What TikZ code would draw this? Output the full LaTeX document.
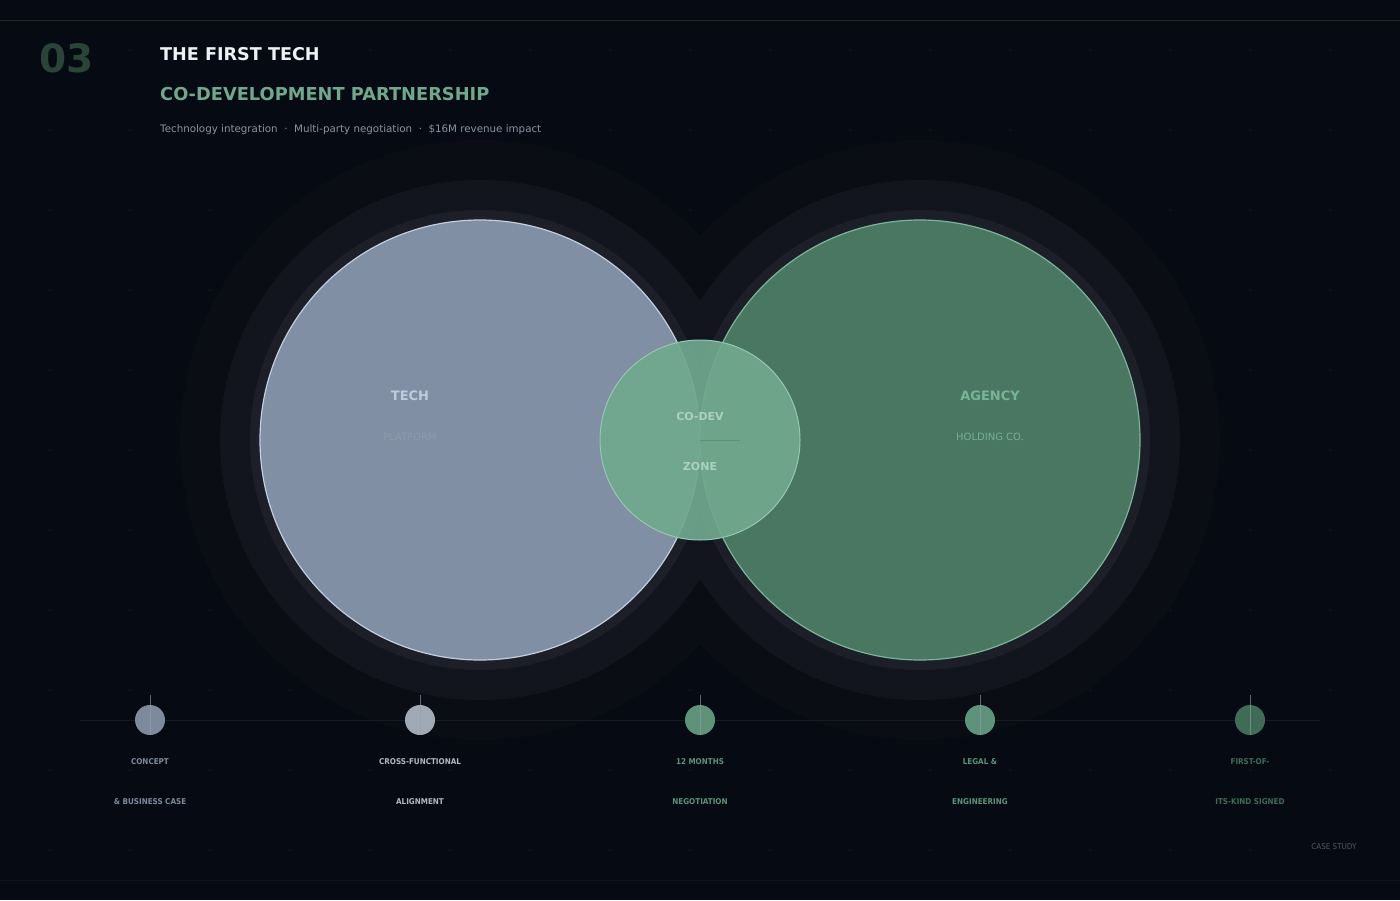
\documentclass[tikz,border=0pt]{standalone}
\usepackage{fontspec}
\setmainfont{DejaVu Sans}
\newfontfamily\cond{DejaVu Sans Condensed}
\definecolor{bg}{HTML}{060A12}
\definecolor{haloA}{HTML}{0A0D14}
\definecolor{haloB}{HTML}{12151D}
\definecolor{haloC}{HTML}{1C1F28}
\definecolor{techF}{HTML}{808FA3}
\definecolor{techS}{HTML}{C3CEDF}
\definecolor{agF}{HTML}{4A7762}
\definecolor{agS}{HTML}{7AB59A}
\definecolor{zoneF}{HTML}{70A88E}
\definecolor{gridc}{HTML}{141922}
\definecolor{topline}{HTML}{1A2A24}
\tikzset{x=1pt,y=-1pt,
 fs/.style={font=\fontsize{#1}{#1}\selectfont},
 lab/.style={font=\cond\bfseries\fontsize{8}{8}\selectfont},
 dotn/.style={circle,minimum size=30pt,inner sep=0pt}}
\begin{document}
\begin{tikzpicture}
\fill[bg] (0,0) rectangle (1400,900);
\useasboundingbox (0,0) rectangle (1400,900);
\foreach \i in {0,...,16}{\foreach \j in {0,...,10}{\fill[gridc] (50+80*\i,50+80*\j) circle (1);}}
\draw[topline] (0,20) -- (1400,20);
\draw[color={rgb,255:red,16;green,20;blue,26}] (0,880) -- (1400,880);
\node[anchor=west,font=\bfseries\fontsize{39}{39}\selectfont,text={rgb,255:red,42;green,68;blue,56}] (num) at (36,58) {03};
\node[anchor=west,font=\bfseries\fontsize{17.6}{18}\selectfont,text={rgb,255:red,238;green,240;blue,244},inner sep=0] (t1) at (160,54) {THE FIRST TECH};
\node[anchor=west,font=\bfseries\fontsize{17.8}{18}\selectfont,text={rgb,255:red,111;green,168;blue,140},inner sep=0] (t2) at (160,94) {CO-DEVELOPMENT PARTNERSHIP};
\node[anchor=west,fs=10.3,text={rgb,255:red,138;green,148;blue,163},inner sep=0] (t3) at (160,130) {Technology integration~~·~~Multi-party negotiation~~·~~\$16M revenue impact};
% halos
\foreach \cx in {480,920}{\fill[haloA] (\cx,440) circle (300);}
\foreach \cx in {480,920}{\fill[haloB] (\cx,440) circle (260);}
\foreach \cx in {480,920}{\fill[haloC] (\cx,440) circle (230);}
\node[circle,minimum size=440pt,inner sep=0,fill=techF,draw=techS,line width=1.2pt] (tech) at (480,440) {};
\node[circle,minimum size=440pt,inner sep=0,fill=agF,draw=agS,line width=1.2pt] (ag) at (920,440) {};
\node[circle,minimum size=200pt,inner sep=0,fill=zoneF,fill opacity=0.92,draw={rgb,255:red,150;green,200;blue,175},line width=1pt] (zone) at (700,440) {};
\draw[color={rgb,255:red,90;green,145;blue,120}] (700,440) -- (740,440);
\node[font=\bfseries\fontsize{13}{13}\selectfont,text={rgb,255:red,190;green,205;blue,220}] (tt) at (410,396) {TECH};
\node[fs=10,text={rgb,255:red,140;green,155;blue,172}] (tp) at (410,437) {PLATFORM};
\node[font=\bfseries\fontsize{13}{13}\selectfont,text={rgb,255:red,120;green,180;blue,150}] (at) at (990,396) {AGENCY};
\node[fs=10,text={rgb,255:red,120;green,175;blue,148}] (ah) at (990,437) {HOLDING CO.};
\node[font=\bfseries\fontsize{11}{11}\selectfont,text={rgb,255:red,170;green,210;blue,190}] (z1) at (700,416) {CO-DEV};
\node[font=\bfseries\fontsize{11}{11}\selectfont,text={rgb,255:red,170;green,210;blue,190}] (z2) at (700,466) {ZONE};
% timeline
\draw[color={rgb,255:red,22;green,27;blue,35}] (80,720) coordinate (ls) -- (1320,720) coordinate (le);
\foreach \x/\c/\a/\b/\tc in {150/{rgb,255:red,125;green,138;blue,156}/CONCEPT/{\& BUSINESS CASE}/{rgb,255:red,125;green,138;blue,156},
 420/{rgb,255:red,160;green,170;blue,182}/CROSS-FUNCTIONAL/ALIGNMENT/{rgb,255:red,176;green,184;blue,196},
 700/{rgb,255:red,94;green,146;blue,122}/12 MONTHS/NEGOTIATION/{rgb,255:red,94;green,146;blue,122},
 980/{rgb,255:red,94;green,146;blue,122}/LEGAL \&/ENGINEERING/{rgb,255:red,94;green,146;blue,122},
 1250/{rgb,255:red,63;green,108;blue,86}/FIRST-OF-/ITS-KIND SIGNED/{rgb,255:red,63;green,108;blue,86}}{
 \node[dotn,fill=\c] (d\x) at (\x,720) {};
 \draw[color={rgb,255:red,150;green,160;blue,170},opacity=0.6,line width=0.6pt] (\x,695) -- (\x,735);
 \node[lab,text=\tc] (la\x) at (\x,762) {\a};
 \node[lab,text=\tc] (lb\x) at (\x,802) {\b};
}
\node[anchor=east,font=\cond\fontsize{8}{8}\selectfont,text={rgb,255:red,80;green,88;blue,100}] (cs) at (1360,847) {CASE STUDY};
\end{tikzpicture}
\end{document}
